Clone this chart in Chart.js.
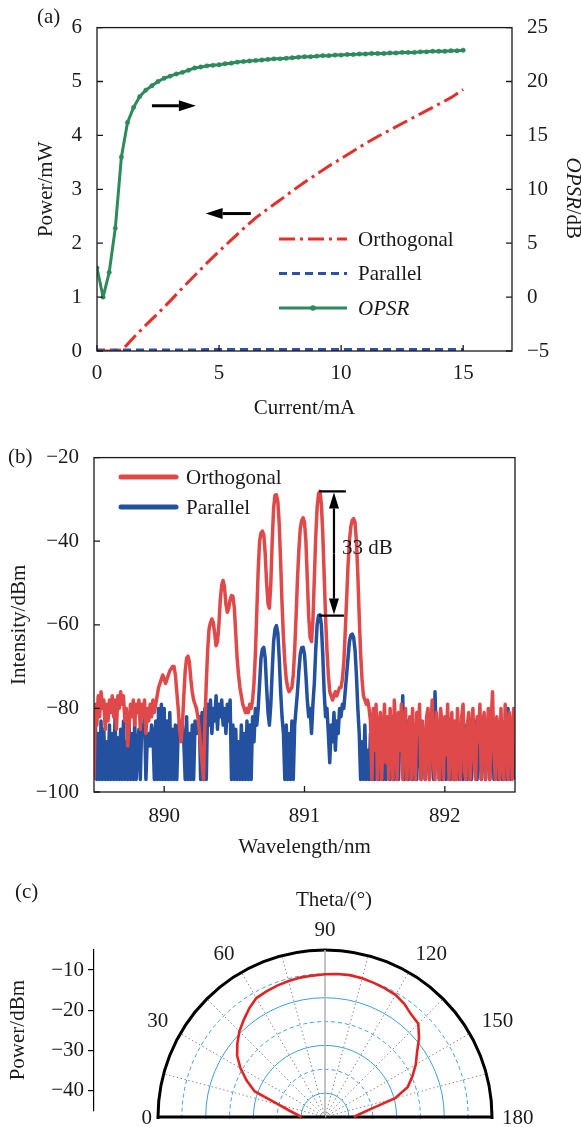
<!DOCTYPE html>
<html lang="en">
<head>
<meta charset="utf-8">
<title>Polarization characteristics</title>
<script src="https://cdn.jsdelivr.net/npm/chart.js@4.4.1/dist/chart.umd.min.js"></script>
<style>
  html, body { margin: 0; padding: 0; background: #fff; }
  #page { position: relative; width: 581px; height: 1127px; overflow: hidden;
          font-family: 'Liberation Serif', 'Times New Roman', serif; color: #1a1a1a; }
  #page canvas { position: absolute; }
  .tag { position: absolute; font-size: 21px; line-height: 21px; white-space: nowrap; }
  #polarBox { position: absolute; left: 100px; top: 880px; width: 481px; height: 247px; overflow: hidden; }
</style>
</head>
<body>
<div id="page">
  <canvas id="chartA" width="581" height="430" style="left:0;top:0"></canvas>
  <canvas id="chartB" width="581" height="440" style="left:0;top:430px"></canvas>
  <canvas id="axisC" width="100" height="227" style="left:0;top:900px"></canvas>
  <div id="polarBox"><canvas id="chartC" width="481" height="474" style="left:0;top:0"></canvas></div>
  <div class="tag" style="left:37px;top:6px">(a)</div>
  <div class="tag" style="left:8px;top:446px">(b)</div>
  <div class="tag" style="left:15px;top:881px">(c)</div>
  <div class="tag" style="left:296px;top:889px">Theta/(°)</div>
</div>
<script>
// (a) power and OPSR against drive current
const currentOpsr = [0, 0.25, 0.5, 0.75, 1, 1.25, 1.5, 1.75, 2, 2.25, 2.5, 2.75, 3, 3.25, 3.5, 3.75,
  4, 4.25, 4.5, 4.75, 5, 5.25, 5.5, 5.75, 6, 6.25, 6.5, 6.75, 7, 7.25, 7.5, 7.75, 8, 8.25, 8.5, 8.75,
  9, 9.25, 9.5, 9.75, 10, 10.25, 10.5, 10.75, 11, 11.25, 11.5, 11.75, 12, 12.25, 12.5, 12.75,
  13, 13.25, 13.5, 13.75, 14, 14.25, 14.5, 14.75, 15];
const opsrDb = [2.7, 0.0, 2.3, 6.4, 13.0, 16.2, 17.6, 18.6, 19.2, 19.6, 20.0, 20.3, 20.5, 20.7, 20.85, 21.05,
  21.25, 21.35, 21.45, 21.5, 21.55, 21.65, 21.7, 21.8, 21.85, 21.9, 21.95, 22.0, 22.05, 22.1, 22.1, 22.15,
  22.2, 22.25, 22.3, 22.3, 22.35, 22.4, 22.4, 22.45, 22.45, 22.5, 22.5, 22.55, 22.55, 22.6, 22.6, 22.6,
  22.65, 22.65, 22.7, 22.7, 22.7, 22.75, 22.75, 22.8, 22.8, 22.8, 22.85, 22.85, 22.9];
const currentOrth = [0, 0.5, 1, 1.2, 1.5, 2, 2.5, 3, 3.5, 4, 4.5, 5, 5.5, 6, 6.5, 7, 7.5, 8, 8.5, 9,
  9.5, 10, 10.5, 11, 11.5, 12, 12.5, 13, 13.5, 14, 14.5, 15];
const orthogonalMw = [0, 0, 0.02, 0.1, 0.25, 0.48, 0.7, 0.93, 1.17, 1.4, 1.63, 1.85, 2.06, 2.27, 2.47, 2.64,
  2.8, 2.97, 3.13, 3.28, 3.43, 3.57, 3.71, 3.85, 3.98, 4.1, 4.22, 4.34, 4.46, 4.58, 4.7, 4.85];
const currentPar = [0, 1, 2, 3, 4, 5, 6, 7, 8, 9, 10, 11, 12, 13, 14, 15];
const parallelMw = [0.02, 0.02, 0.02, 0.02, 0.02, 0.03, 0.03, 0.03, 0.03, 0.03, 0.03, 0.03, 0.03, 0.03, 0.03, 0.03];
const currentTicks = [0, 5, 10, 15];
const powerTicks = [0, 1, 2, 3, 4, 5, 6];
const opsrTicks = [-5, 0, 5, 10, 15, 20, 25];

// (b) optical spectra, OSA trace sampled every 0.01 nm from 889.50 nm
const wavelengthStart = 889.5;
const wavelengthStep = 0.01;
const orthogonalDbm = [
  -97, -79, -84, -77, -82, -76, -80, -78, -85, -79,
  -83, -78, -81, -77, -82, -78, -85, -77, -80, -76,
  -79, -77, -83, -80, -89, -84, -79, -82, -78, -84,
  -79, -81, -78, -85, -79, -82, -78, -86, -80, -83,
  -79, -82, -78, -81, -79, -77, -75, -74, -73, -72,
  -73, -74, -73, -72, -71, -70.5, -70, -70, -72, -76,
  -80, -85, -88, -84, -77, -71, -68, -67.5, -69, -73,
  -76, -78, -79, -80, -82, -85, -89, -93, -97, -84,
  -74, -66, -61, -59.5, -58.6, -59.5, -62, -65, -64, -60,
  -54, -50.5, -49.4, -51, -55, -57, -56, -54, -53, -53.2,
  -56, -62, -68, -72, -75, -77, -79, -80, -81, -80,
  -81, -79, -80, -78, -74, -67, -57, -47, -40, -38,
  -37.6, -38.5, -43, -50, -55, -56, -50, -40, -32, -29,
  -28.9, -30.5, -36, -45, -55, -63, -69, -73, -75, -76,
  -75.5, -75, -72, -66, -58, -49, -42, -37, -35, -34.4,
  -35.5, -40, -49, -58, -63, -64, -59, -49, -39, -32,
  -28.6, -28.1, -31, -38, -48, -58, -66, -72, -76, -77,
  -78, -77, -76, -77, -76, -75, -75, -73, -69, -62,
  -54, -46, -40, -36.5, -35, -34.6, -35.5, -40, -48, -58,
  -67, -73, -77, -78, -79, -78, -80, -83, -97, -80,
  -90, -79, -97, -84, -81, -97, -86, -79, -93, -82,
  -97, -80, -88, -97, -78, -85, -97, -81, -90, -79,
  -97, -84, -80, -97, -87, -82, -97, -80, -92, -97,
  -81, -86, -79, -97, -83, -89, -97, -82, -80, -97,
  -85, -78, -94, -97, -81, -87, -97, -80, -84, -97,
  -82, -91, -79, -97, -86, -81, -97, -83, -97, -80,
  -89, -97, -82, -79, -95, -97, -84, -81, -97, -86,
  -80, -93, -97, -82, -88, -79, -97, -84, -81, -97,
  -87, -80, -97, -83, -76, -90, -97, -82, -85, -97,
  -80, -92, -97, -79, -86, -97, -81, -84, -97, -80,
  -88];
const parallelDbm = [
  -97, -84, -97, -86, -97, -83, -97, -85, -97, -88,
  -97, -84, -97, -86, -97, -82, -97, -87, -97, -85,
  -97, -83, -97, -88, -97, -84, -97, -86, -97, -83,
  -97, -90, -85, -97, -84, -86, -82, -97, -87, -86,
  -89, -84, -86, -97, -83, -97, -80, -97, -79, -97,
  -80, -97, -83, -97, -81, -97, -85, -97, -84, -97,
  -85, -83, -87, -84, -88, -97, -82, -97, -86, -97,
  -84, -97, -83, -86, -84, -82, -97, -81, -97, -80,
  -97, -79, -84, -78, -86, -80, -83, -77, -85, -79,
  -82, -78, -84, -80, -86, -79, -83, -78, -97, -84,
  -97, -85, -97, -88, -97, -84, -97, -86, -97, -83,
  -97, -84, -97, -82, -88, -80, -84, -80, -74, -68,
  -65.8, -65.4, -68, -75, -81, -84, -79, -71, -64, -61,
  -60.2, -62, -68, -76, -82, -86, -97, -84, -97, -86,
  -97, -83, -97, -84, -80, -76, -71, -67, -65.5, -65.4,
  -67, -72, -78, -82, -80, -86, -79, -74, -66, -60,
  -57.8, -57.6, -60, -67, -76, -82, -80, -86, -93, -84,
  -88, -81, -90, -83, -86, -80, -82, -79, -80, -76,
  -72, -68, -64, -62.5, -62.2, -63, -66, -72, -80, -86,
  -97, -88, -97, -84, -97, -90, -97, -86, -97, -84,
  -97, -88, -83, -97, -90, -85, -97, -84, -97, -89,
  -83, -97, -86, -82, -97, -88, -84, -97, -85, -91,
  -77, -97, -86, -83, -97, -89, -85, -97, -84, -88,
  -97, -83, -86, -97, -85, -90, -97, -84, -88, -97,
  -86, -83, -97, -76, -89, -84, -97, -86, -97, -83,
  -88, -97, -85, -90, -97, -84, -88, -97, -85, -83,
  -97, -89, -86, -97, -84, -90, -97, -85, -88, -97,
  -84, -91, -83, -97, -86, -88, -97, -84, -89, -97,
  -85, -83, -97, -88, -84, -97, -86, -90, -97, -84,
  -88, -97, -86, -83, -97, -80, -88, -97, -85, -89,
  -97];
const wavelengthTicks = [890, 891, 892];
const intensityTicks = [-100, -80, -60, -40, -20];

// (c) far-field power against theta, 5 degree steps from 0 to 180
const thetaStep = 5;
const farFieldDbm = [-39.4, -38.2, -36.4, -33.4, -27.1, -24.3, -21.6, -19.3, -17.6, -16.0,
  -14.7, -13.3, -12.1, -11.8, -11.5, -11.3, -11.1, -11.0, -10.8, -10.6, -10.5, -10.6, -10.8,
  -11.0, -11.2, -11.9, -12.9, -13.4, -15.6, -18.1, -19.9, -21.9, -23.9, -27.6, -33.8, -36.6, -38.1];
const thetaTicks = [0, 30, 60, 90, 120, 150, 180];
const farFieldTicks = [-40, -30, -20, -10];

// annotations
const arrowToOpsr = { from: [2.25, 4.55], to: [4.05, 4.55] };
const arrowToPower = { from: [6.3, 2.55], to: [4.45, 2.55] };
const gapWavelength = 891.21, gapTopDbm = -28.1, gapBottomDbm = -57.8;
const gapBarFrom = 891.105, gapBarTo = 891.295;

const serif = "'Liberation Serif', 'Times New Roman', serif";
const ink = '#1a1a1a';
const font = { family: serif, size: 21 };
const minus = v => (v < 0 ? '\u2212' + Math.abs(v) : String(v));
const pts = (xs, ys) => xs.map((x, i) => ({ x, y: ys[i] }));
const useTicks = list => s => { s.ticks = list.map(value => ({ value })); };

function arrow(ctx, x1, y1, x2, y2, head, half) {
  const a = Math.atan2(y2 - y1, x2 - x1);
  const bx = x2 - head * Math.cos(a), by = y2 - head * Math.sin(a);
  ctx.beginPath(); ctx.moveTo(x1, y1); ctx.lineTo(bx, by); ctx.stroke();
  ctx.beginPath();
  ctx.moveTo(x2, y2);
  ctx.lineTo(bx + half * Math.sin(a), by - half * Math.cos(a));
  ctx.lineTo(bx - half * Math.sin(a), by + half * Math.cos(a));
  ctx.closePath(); ctx.fill();
}

// box round the plot plus inward tick marks
const frameAndTicks = {
  id: 'frameAndTicks',
  afterDraw(chart) {
    const { ctx, chartArea: a } = chart;
    ctx.save();
    ctx.strokeStyle = ink;
    ctx.lineWidth = 1.3;
    ctx.strokeRect(a.left, a.top, a.right - a.left, a.bottom - a.top);
    ctx.beginPath();
    Object.values(chart.scales).forEach(s => {
      s.ticks.forEach(t => {
        const p = s.getPixelForValue(t.value);
        if (s.position === 'bottom') { ctx.moveTo(p, a.bottom); ctx.lineTo(p, a.bottom - 6); }
        if (s.position === 'left') { ctx.moveTo(a.left, p); ctx.lineTo(a.left + 6, p); }
        if (s.position === 'right') { ctx.moveTo(a.right, p); ctx.lineTo(a.right - 6, p); }
      });
    });
    ctx.stroke();
    ctx.restore();
  }
};

const extrasA = {
  id: 'extrasA',
  afterDraw(chart) {
    const { ctx, scales: { x, y } } = chart;
    ctx.save();
    // legend
    chart.data.datasets.forEach((ds, i) => {
      const ly = 239 + i * 34.5;
      ctx.strokeStyle = ds.borderColor;
      ctx.lineWidth = 3;
      ctx.setLineDash(ds.borderDash || []);
      ctx.beginPath(); ctx.moveTo(279, ly); ctx.lineTo(347, ly); ctx.stroke();
      ctx.setLineDash([]);
      if (ds.pointRadius) {
        ctx.fillStyle = ds.borderColor;
        ctx.beginPath(); ctx.arc(313, ly, 2.8, 0, Math.PI * 2); ctx.fill();
      }
      ctx.fillStyle = ink;
      ctx.font = (ds.label === 'OPSR' ? 'italic ' : '') + '21px ' + serif;
      ctx.textBaseline = 'middle';
      ctx.fillText(ds.label, 358, ly + 1);
    });
    // arrows telling which axis a curve belongs to
    ctx.strokeStyle = '#000'; ctx.fillStyle = '#000'; ctx.lineWidth = 3;
    [arrowToOpsr, arrowToPower].forEach(ar => {
      arrow(ctx, x.getPixelForValue(ar.from[0]), y.getPixelForValue(ar.from[1]),
        x.getPixelForValue(ar.to[0]), y.getPixelForValue(ar.to[1]), 17, 5.5);
    });
    // right axis title, OPSR in italics
    const a = chart.chartArea;
    ctx.translate(a.right + 61, (a.top + a.bottom) / 2 + 9);
    ctx.rotate(Math.PI / 2);
    ctx.fillStyle = ink;
    ctx.textBaseline = 'middle';
    ctx.font = 'italic 21px ' + serif;
    const w1 = ctx.measureText('OPSR').width;
    ctx.font = '21px ' + serif;
    const w2 = ctx.measureText('/dB').width;
    ctx.font = 'italic 21px ' + serif;
    ctx.fillText('OPSR', -(w1 + w2) / 2, 0);
    ctx.font = '21px ' + serif;
    ctx.fillText('/dB', -(w1 + w2) / 2 + w1, 0);
    ctx.restore();
  }
};

new Chart(document.getElementById('chartA'), {
  type: 'line',
  data: {
    datasets: [
      { label: 'Orthogonal', data: pts(currentOrth, orthogonalMw), yAxisID: 'y',
        borderColor: '#e3302b', borderWidth: 3, borderDash: [16, 5, 3, 5], pointRadius: 0 },
      { label: 'Parallel', data: pts(currentPar, parallelMw), yAxisID: 'y',
        borderColor: '#2b52a8', borderWidth: 3, borderDash: [8, 5], pointRadius: 0 },
      { label: 'OPSR', data: pts(currentOpsr, opsrDb), yAxisID: 'y2',
        borderColor: '#2e8a5c', backgroundColor: '#2e8a5c', borderWidth: 3,
        pointRadius: 2.2, pointBorderWidth: 0.5, borderJoinStyle: 'round' }
    ]
  },
  options: {
    responsive: false, animation: false, devicePixelRatio: 1,
    layout: { padding: { top: 16, left: 0, right: 0, bottom: 0 } },
    plugins: { legend: { display: false }, tooltip: { enabled: false } },
    scales: {
      x: {
        type: 'linear', min: 0, max: 17,
        grid: { display: false, drawTicks: false }, border: { display: false },
        ticks: { padding: 10, font, color: ink, maxRotation: 0, callback: minus },
        title: { display: true, text: 'Current/mA', font, color: ink, padding: { top: 0, bottom: 9 } },
        afterBuildTicks: useTicks(currentTicks),
        afterFit: s => { s.height = 79; }
      },
      y: {
        type: 'linear', position: 'left', min: 0, max: 6,
        grid: { display: false, drawTicks: false }, border: { display: false },
        ticks: { padding: 15, font, color: ink, callback: minus },
        title: { display: true, text: 'Power/mW', font, color: ink, padding: { top: 34, bottom: 0 } },
        afterBuildTicks: useTicks(powerTicks),
        afterFit: s => { s.width = 97; }
      },
      y2: {
        type: 'linear', position: 'right', min: -5, max: 25,
        grid: { display: false, drawTicks: false }, border: { display: false },
        ticks: { padding: 15, font, color: ink, callback: minus },
        afterBuildTicks: useTicks(opsrTicks),
        afterFit: s => { s.width = 69; }
      }
    }
  },
  plugins: [frameAndTicks, extrasA]
});

// (b)
const wavelengths = orthogonalDbm.map((_, i) => +(wavelengthStart + i * wavelengthStep).toFixed(2));

const extrasB = {
  id: 'extrasB',
  afterDatasetsDraw(chart) {
    const { ctx, scales: { x, y } } = chart;
    ctx.save();
    const ax = x.getPixelForValue(gapWavelength);
    const yTop = y.getPixelForValue(gapTopDbm), yBot = y.getPixelForValue(gapBottomDbm);
    const x1 = x.getPixelForValue(gapBarFrom), x2 = x.getPixelForValue(gapBarTo);
    ctx.strokeStyle = '#000'; ctx.fillStyle = '#000'; ctx.lineWidth = 2.2;
    ctx.beginPath();
    ctx.moveTo(x1, yTop); ctx.lineTo(x2, yTop);
    ctx.moveTo(x1, yBot); ctx.lineTo(x2 - 2, yBot);
    ctx.stroke();
    const mid = (yTop + yBot) / 2;
    arrow(ctx, ax, mid, ax, yTop + 1, 16, 5);
    arrow(ctx, ax, mid, ax, yBot - 1, 16, 5);
    ctx.fillStyle = ink;
    ctx.font = '21px ' + serif;
    ctx.textBaseline = 'middle';
    ctx.fillText('33 dB', ax + 8, mid - 5);
    // legend
    chart.data.datasets.forEach((ds, i) => {
      const ly = 47 + i * 30;
      ctx.strokeStyle = ds.borderColor; ctx.lineWidth = 5; ctx.lineCap = 'round';
      ctx.beginPath(); ctx.moveTo(121, ly); ctx.lineTo(176, ly); ctx.stroke();
      ctx.fillStyle = ink;
      ctx.fillText(ds.label, 186, ly + 1);
    });
    ctx.restore();
  }
};

new Chart(document.getElementById('chartB'), {
  type: 'line',
  data: {
    datasets: [
      { label: 'Orthogonal', data: pts(wavelengths, orthogonalDbm), borderColor: '#df4949',
        borderWidth: 3.5, pointRadius: 0, borderJoinStyle: 'round' },
      { label: 'Parallel', data: pts(wavelengths, parallelDbm), borderColor: '#23509f',
        borderWidth: 3.5, pointRadius: 0, borderJoinStyle: 'round' }
    ]
  },
  options: {
    responsive: false, animation: false, devicePixelRatio: 1,
    layout: { padding: { top: 26, left: 0, right: 66, bottom: 0 } },
    plugins: { legend: { display: false }, tooltip: { enabled: false } },
    scales: {
      x: {
        type: 'linear', min: 889.5, max: 892.5,
        grid: { display: false, drawTicks: false }, border: { display: false },
        ticks: { padding: 12, font, color: ink, maxRotation: 0, callback: v => String(v) },
        title: { display: true, text: 'Wavelength/nm', font, color: ink, padding: { top: 0, bottom: 10 } },
        afterBuildTicks: useTicks(wavelengthTicks),
        afterFit: s => { s.height = 78; }
      },
      y: {
        type: 'linear', min: -100, max: -20,
        grid: { display: false, drawTicks: false }, border: { display: false },
        ticks: { padding: 15, font, color: ink, callback: minus },
        title: { display: true, text: 'Intensity/dBm', font, color: ink, padding: { top: 7, bottom: 0 } },
        afterBuildTicks: useTicks(intensityTicks),
        afterFit: s => { s.width = 94; }
      }
    }
  },
  plugins: [frameAndTicks, extrasB]
});

// (c) separate power axis on the left
new Chart(document.getElementById('axisC'), {
  type: 'line',
  data: { datasets: [] },
  options: {
    responsive: false, animation: false, devicePixelRatio: 1,
    layout: { padding: { top: 50, bottom: 10, left: 0, right: 0 } },
    plugins: { legend: { display: false }, tooltip: { enabled: false } },
    scales: {
      x: { type: 'linear', display: false, min: 0, max: 1 },
      y: {
        type: 'linear', min: -45, max: -5,
        ticks: { padding: 4, font, color: ink, callback: minus },
        grid: { drawOnChartArea: false, tickLength: 6, color: '#000', lineWidth: 1.2 },
        border: { color: '#000', width: 1.2 },
        title: { display: true, text: 'Power/dBm', font, color: ink, padding: { top: 6, bottom: 0 } },
        afterBuildTicks: useTicks(farFieldTicks),
        afterFit: s => { s.width = 94; }
      }
    }
  }
});

// (c) polar plot: upper half of a radar chart, theta 0 on the left
const thetaLabels = Array.from({ length: 360 / thetaStep }, (_, i) => i * thetaStep);

const halfDisc = {
  id: 'halfDisc',
  beforeDraw(chart) {
    const { ctx, scales: { r } } = chart;
    ctx.save();
    ctx.beginPath();
    ctx.rect(0, 0, chart.width, r.yCenter + 2);
    ctx.clip();
  },
  afterDraw(chart) {
    const { ctx, scales: { r } } = chart;
    ctx.restore();
    ctx.save();
    ctx.fillStyle = ink;
    ctx.font = '21px ' + serif;
    thetaTicks.forEach(t => {
      const side = t === 0 || t === 180;
      const p = r.getPointPosition(t / thetaStep, r.drawingArea + (t === 0 ? 6 : t === 180 ? 10 : 14));
      ctx.textAlign = t < 90 ? 'right' : t > 90 ? 'left' : 'center';
      ctx.textBaseline = side ? 'middle' : 'alphabetic';
      ctx.fillText(String(t), p.x, p.y + (side ? 1 : 0));
    });
    ctx.restore();
  }
};

const spoke = c => {
  const t = c.index * thetaStep;
  if (t > 180 || t % 15) return null;
  if (t === 0 || t === 180) return 'edge';
  return t === 90 ? 'mid' : 'dot';
};

new Chart(document.getElementById('chartC'), {
  type: 'radar',
  data: {
    labels: thetaLabels,
    datasets: [{
      label: 'Power', data: thetaLabels.map((_, i) => (i < farFieldDbm.length ? farFieldDbm[i] : null)),
      borderColor: '#e02424', borderWidth: 2.6, pointRadius: 0, fill: false, tension: 0
    }]
  },
  options: {
    responsive: false, animation: false, devicePixelRatio: 1,
    layout: { padding: { left: 58, right: 89, top: 70, bottom: 70 } },
    plugins: { legend: { display: false }, tooltip: { enabled: false } },
    scales: {
      r: {
        min: -45, max: -5, startAngle: -90,
        ticks: { display: false, stepSize: 40 / 7 },
        pointLabels: { display: false },
        grid: {
          circular: true,
          color: c => (c.index === 7 ? '#000' : '#3d9fd9'),
          lineWidth: c => (c.index === 0 ? 0 : c.index === 7 ? 3 : 1)
        },
        border: { dash: c => (c.index % 2 === 0 && c.index < 7 ? [4, 3] : []) },
        angleLines: {
          color: c => ({ edge: '#000', mid: '#b4b4b4', dot: '#8a8a8a' }[spoke(c)] || 'rgba(0,0,0,0)'),
          lineWidth: c => ({ edge: 3, mid: 1.6, dot: 1 }[spoke(c)] || 0),
          borderDash: c => (spoke(c) === 'dot' ? [1.5, 2.5] : [])
        }
      }
    }
  },
  plugins: [halfDisc]
});
</script>
</body>
</html>
